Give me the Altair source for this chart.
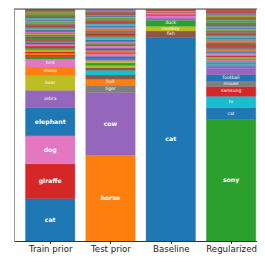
import altair as alt
import pandas as pd

TAB10 = ["#1f77b4", "#ff7f0e", "#2ca02c", "#d62728", "#9467bd",
         "#8c564b", "#e377c2", "#7f7f7f", "#bcbd22", "#17becf"]

bar_names = ["Train prior", "Test prior", "Baseline", "Regularized"]

# Named (labelled) segments, bottom to top
train_labels = ["cat", "giraffe", "dog", "elephant", "zebra", "bear", "sheep", "bird"]
train_values = [0.183, 0.150, 0.121, 0.121, 0.075, 0.0625, 0.0375, 0.035]
train_hues = [0, 3, 6, 0, 4, 8, 1, 6]

test_labels = ["horse", "cow", "tiger", "bull"]
test_values = [0.370, 0.270, 0.031, 0.027]
test_hues = [1, 4, 7, 1]

base_labels = ["cat", "fish", "monkey", "duck"]
base_values = [0.877, 0.028, 0.021, 0.024]
base_hues = [0, 5, 8, 2]

reg_labels = ["sony", "cat", "tv", "samsung", "mouse", "football"]
reg_values = [0.524, 0.051, 0.049, 0.042, 0.023, 0.028]
reg_hues = [2, 0, 9, 3, 7, 0]

# Unlabelled thin segments above the named ones, bottom to top
train_rest = [0.009, 0.008, 0.008, 0.007, 0.007, 0.007, 0.006, 0.006, 0.006, 0.006,
              0.005, 0.005, 0.005, 0.005, 0.005, 0.005, 0.004, 0.004, 0.004, 0.004,
              0.004, 0.004, 0.004, 0.004, 0.004, 0.003, 0.003, 0.003, 0.003, 0.003,
              0.003, 0.003, 0.003, 0.003, 0.003, 0.003, 0.003, 0.003, 0.003, 0.002,
              0.002, 0.002, 0.002, 0.002, 0.002, 0.002, 0.002, 0.002, 0.002, 0.002,
              0.002, 0.002, 0.002, 0.002, 0.002, 0.002, 0.002, 0.002, 0.001]
train_rest_hues = [2, 3, 1, 3, 8, 2, 5, 3, 6, 0]

test_rest = [0.018, 0.020, 0.012, 0.008, 0.012, 0.010, 0.008, 0.010, 0.012, 0.006,
             0.008, 0.006, 0.006, 0.008, 0.005, 0.005, 0.005, 0.005, 0.005, 0.005,
             0.005, 0.005, 0.005, 0.005, 0.004, 0.004, 0.004, 0.004, 0.004, 0.004,
             0.004, 0.004, 0.004, 0.004, 0.003, 0.003, 0.003, 0.003, 0.003, 0.003,
             0.003, 0.003, 0.003, 0.003, 0.003, 0.003, 0.002, 0.002, 0.002, 0.002,
             0.002, 0.002, 0.002, 0.002, 0.002, 0.002, 0.002, 0.002, 0.002, 0.002,
             0.002, 0.002]
test_rest_hues = [5, 9, 5, 8, 2, 8, 4, 0, 6, 3, 1, 0, 4, 6, 3, 2]

base_rest = [0.008, 0.006, 0.008, 0.005, 0.004, 0.004, 0.003, 0.003, 0.003, 0.002,
             0.002, 0.002]
base_rest_hues = [7, 4, 6, 3, 6, 1, 5, 6, 7, 3, 5, 7]

reg_rest = [0.025, 0.012, 0.008, 0.008, 0.006, 0.006, 0.006, 0.005, 0.005, 0.005,
            0.005, 0.005, 0.005, 0.005, 0.005, 0.005, 0.004, 0.004, 0.004, 0.004,
            0.004, 0.004, 0.004, 0.004, 0.004, 0.004, 0.004, 0.004, 0.003, 0.003,
            0.003, 0.003, 0.003, 0.003, 0.003, 0.003, 0.003, 0.003, 0.003, 0.003,
            0.003, 0.003, 0.003, 0.002, 0.002, 0.002, 0.002, 0.002, 0.002, 0.002,
            0.002, 0.002, 0.002, 0.002, 0.002, 0.002, 0.002, 0.002, 0.002, 0.002,
            0.002, 0.002, 0.002, 0.002, 0.002, 0.002, 0.002, 0.002, 0.002, 0.002,
            0.002, 0.002, 0.002, 0.002, 0.002, 0.002, 0.002, 0.002, 0.002, 0.002]
reg_rest_hues = [4, 4, 9, 7, 9, 6, 2, 8, 3, 9]

stripe_cycle = [5, 7, 3, 8, 2, 6, 4, 0, 1, 9, 7, 5, 3, 2]

bars = [
    (train_labels, train_values, train_hues, train_rest, train_rest_hues),
    (test_labels, test_values, test_hues, test_rest, test_rest_hues),
    (base_labels, base_values, base_hues, base_rest, base_rest_hues),
    (reg_labels, reg_values, reg_hues, reg_rest, reg_rest_hues),
]

rows = []
for i, (labs, vals, hues, rest, rest_hues) in enumerate(bars):
    k = 0
    for lab, v, h in zip(labs, vals, hues):
        big = v >= 0.1
        rows.append(dict(bar=bar_names[i], pos=i, order=k, value=v, label=lab,
                         hex=TAB10[h], big=big))
        k += 1
    for j, v in enumerate(rest):
        h = rest_hues[j] if j < len(rest_hues) else stripe_cycle[(j + i * 3) % len(stripe_cycle)]
        rows.append(dict(bar=bar_names[i], pos=i, order=k, value=v, label="",
                         hex=TAB10[h], big=False))
        k += 1

df = pd.DataFrame(rows)

W, H = 243, 232
label_expr = "[" + ",".join("'%s'" % n for n in bar_names) + "][datum.value]"

base = alt.Chart(df).transform_stack(
    stack="value", groupby=["bar"],
    sort=[alt.SortField("order", order="ascending")],
    as_=["y0", "y1"],
).transform_calculate(
    mid="(datum.y0 + datum.y1) / 2",
    xl="datum.pos - 0.41",
    xr="datum.pos + 0.41",
)

xscale = alt.Scale(domain=[-0.6, 3.43], nice=False, zero=False)
yscale = alt.Scale(domain=[0, 1], nice=False)

bar_layer = base.mark_bar(strokeWidth=0.35, clip=True).encode(
    x=alt.X("xl:Q", scale=xscale,
            axis=alt.Axis(values=[0, 1, 2, 3], labelExpr=label_expr, title=None,
                          grid=False, domainColor="#333", tickColor="#333",
                          tickSize=2.5, labelFontSize=8.6, labelColor="#222",
                          labelPadding=1, labelFont="DejaVu Sans",
                          labelFlush=False, labelOverlap=False)),
    x2="xr:Q",
    y=alt.Y("y0:Q", scale=yscale,
            axis=alt.Axis(ticks=False, labels=False, grid=False, title=None,
                          domainColor="#999")),
    y2="y1:Q",
    color=alt.Color("hex:N", scale=None),
    stroke=alt.Stroke("hex:N", scale=None),
)

text_big = base.transform_filter("datum.label != '' && datum.big").mark_text(
    color="white", fontSize=6.2, fontWeight="bold", font="DejaVu Sans"
).encode(
    x=alt.X("pos:Q", scale=xscale),
    y=alt.Y("mid:Q", scale=yscale),
    text="label:N",
)

text_small = base.transform_filter("datum.label != '' && !datum.big").mark_text(
    color="white", fontSize=4.5, font="DejaVu Sans"
).encode(
    x=alt.X("pos:Q", scale=xscale),
    y=alt.Y("mid:Q", scale=yscale),
    text="label:N",
)

top_spine = alt.Chart(pd.DataFrame({"a": [0]})).mark_rule(color="#444", strokeWidth=1).encode(
    x=alt.value(0), x2=alt.value(W), y=alt.value(0)
)

chart = alt.layer(bar_layer, text_big, text_small, top_spine).properties(
    width=W, height=H,
    padding={"left": 6, "top": 1, "right": 0, "bottom": 13},
    autosize=alt.AutoSizeParams(type="none"),
).configure_view(stroke=None).configure(background="white")

chart.save("out.html", embed_options={"renderer": "svg", "actions": False})
